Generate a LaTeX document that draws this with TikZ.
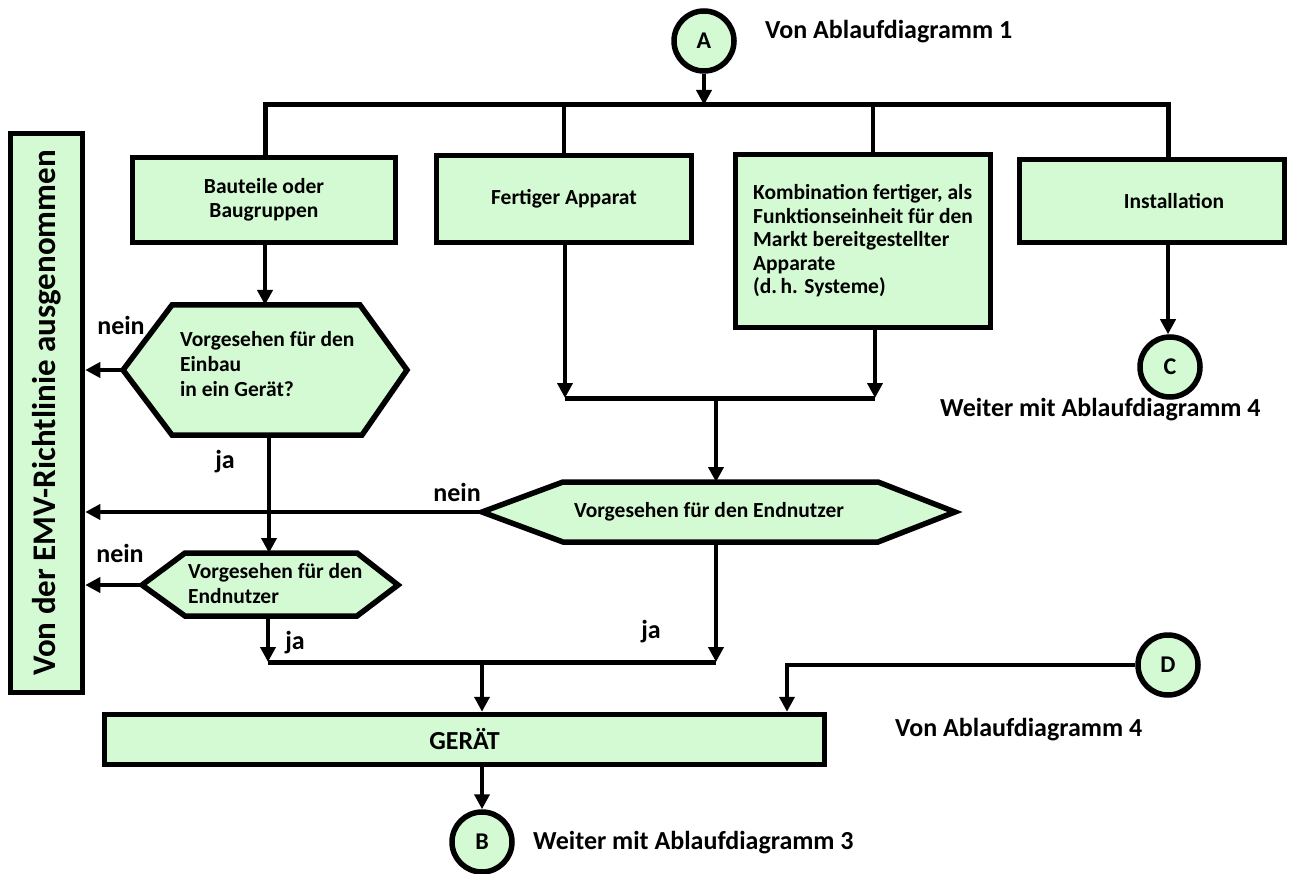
\documentclass[tikz,border=0pt]{standalone}
\usepackage{fontspec}
\setmainfont{Carlito}
\usetikzlibrary{arrows.meta}
\definecolor{boxgreen}{RGB}{211,250,211}
\begin{document}
\begin{tikzpicture}[x=1pt,y=-1pt,
  every node/.style={font=\bfseries},
  box/.style={draw, line width=5.5pt, fill=boxgreen, inner sep=0pt, align=center,
    font=\bfseries\fontsize{21.5}{23.5}\selectfont},
  hexa/.style={draw, line width=5.5pt, fill=boxgreen, line join=miter},
  conn/.style={circle, draw, line width=5.5pt, fill=boxgreen, minimum size=60pt, inner sep=0pt,
    font=\bfseries\fontsize{24}{26}\selectfont},
  htext/.style={inner sep=0pt, align=left, font=\bfseries\fontsize{21.5}{25}\selectfont},
  lbl/.style={inner sep=0pt, font=\bfseries\fontsize{26}{30}\selectfont},
  wire/.style={line width=4pt},
  bus/.style={line width=5pt},
  arr/.style={line width=4pt, -{Triangle[length=15pt,width=15pt]}}
]
\useasboundingbox (0,0) rectangle (1311,874);

% connectors (circles)
\node[conn] (A) at (704,41) {A};
\node[conn] (C) at (1170,367) {C};
\node[conn] (D) at (1168,665) {D};
\node[conn] (B) at (482,842) {B};

% boxes
\node[box, minimum width=263pt, minimum height=85pt] (baut) at (264,200) {Bauteile oder\\Baugruppen};
\node[box, minimum width=255pt, minimum height=87pt] (fert) at (564,199) {Fertiger Apparat};
\node[box, minimum width=255pt, minimum height=173pt, align=left] (komb) at (863,241)
  {Kombination fertiger, als\\Funktionseinheit f\"ur den\\Markt bereitgestellter\\Apparate\\(d.\,h. Systeme)};
\node[box, minimum width=265pt, minimum height=83pt] (inst) at (1152,201) {\hspace*{44pt}Installation};
\node[box, minimum width=72pt, minimum height=559pt] (emv) at (46.5,413) {};
\node[inner sep=0pt, rotate=90, font=\bfseries\fontsize{33}{36}\selectfont] (emvtext) at (46.5,413) {Von der EMV-Richtlinie ausgenommen};
\node[box, minimum width=720pt, minimum height=50pt, font=\bfseries\fontsize{26}{28}\selectfont] (geraet) at (464.5,739.5) {GER\"AT};

% hexagons
\draw[hexa] (123,370) -- (172,305) -- (360,305) -- (407,370) -- (362,435) -- (172,435) -- cycle;
\coordinate (h1w) at (123,370);
\coordinate (h1n) at (265,305);
\coordinate (h1s) at (269,435);
\node[htext, anchor=west] (h1) at (180,364) {Vorgesehen f\"ur den\\Einbau\\in ein Ger\"at?};

\draw[hexa] (142,585) -- (185,553) -- (357,553) -- (398,585) -- (357,616) -- (185,616) -- cycle;
\coordinate (h2w) at (142,585);
\coordinate (h2n) at (269,553);
\coordinate (h2s) at (268,616);
\node[htext, anchor=west] (h2) at (188,584) {Vorgesehen f\"ur den\\Endnutzer};

\draw[hexa] (482,512) -- (563,482) -- (878,482) -- (955,512) -- (878,542) -- (563,542) -- cycle;
\coordinate (h3w) at (482,512);
\coordinate (h3n) at (716,482);
\coordinate (h3s) at (716,542);
\node[htext] (h3) at (709,512) {Vorgesehen f\"ur den Endnutzer};

% top bus
\coordinate (tb1) at (265,105);
\coordinate (tb2) at (1168,105);
\draw[bus] (baut.north -| tb1) -- (tb1) -- (tb2) -- (inst.north -| tb2);
\draw[wire] (fert.north) -- (fert.north |- tb1);
\draw[wire] ([xshift=10pt]komb.north) -- ([xshift=10pt]komb.north |- tb1);
\draw[arr] (A.south) -- (A.south |- tb1);

% installation to C
\draw[arr] (inst.south -| tb2) -- (C.north -| tb2);

% left column
\draw[arr] (baut.south -| tb1) -- (h1n);
\draw[arr] (h1s) -- (h2n);
\draw[arr] (h1w) -- (h1w -| emv.east);
\draw[arr] (h2w) -- (h2w -| emv.east);
\draw[arr] (h3w) -- (h3w -| emv.east);

% middle bus
\coordinate (mb1) at (565,398);
\coordinate (mb2) at (875,398);
\draw[arr] (fert.south -| mb1) -- (mb1);
\draw[arr] (komb.south -| mb2) -- (mb2);
\draw[bus] (mb1) -- (mb2);
\draw[arr] (mb1 -| h3n) -- (h3n);

% lower bus
\coordinate (lb1) at (268,662);
\coordinate (lb2) at (716,662);
\draw[arr] (h2s) -- (lb1);
\draw[arr] (h3s) -- (lb2);
\draw[bus] (lb1) -- (lb2);
\coordinate (gin) at (482,662);
\draw[arr] (gin) -- (gin |- geraet.north);

% D to Geraet
\coordinate (dk) at (787,665);
\draw[arr] (D.west) -- (dk) -- (dk |- geraet.north);

% Geraet to B
\draw[arr] (geraet.south -| gin) -- (B.north);

% labels
\node[lbl] (n1) at (121,325) {nein};
\node[lbl] (j1) at (225,462) {ja};
\node[lbl] (n3) at (457,492) {nein};
\node[lbl] (n2) at (120,553) {nein};
\node[lbl] (j2) at (295,643) {ja};
\node[lbl] (j3) at (651,632) {ja};

\node[lbl, anchor=west] (tA) at (765,32) {Von Ablaufdiagramm 1};
\node[lbl, anchor=west] (tC) at (940,410) {Weiter mit Ablaufdiagramm 4};
\node[lbl, anchor=west] (tD) at (895,730) {Von Ablaufdiagramm 4};
\node[lbl, anchor=west] (tB) at (533,843) {Weiter mit Ablaufdiagramm 3};
\end{tikzpicture}
\end{document}
